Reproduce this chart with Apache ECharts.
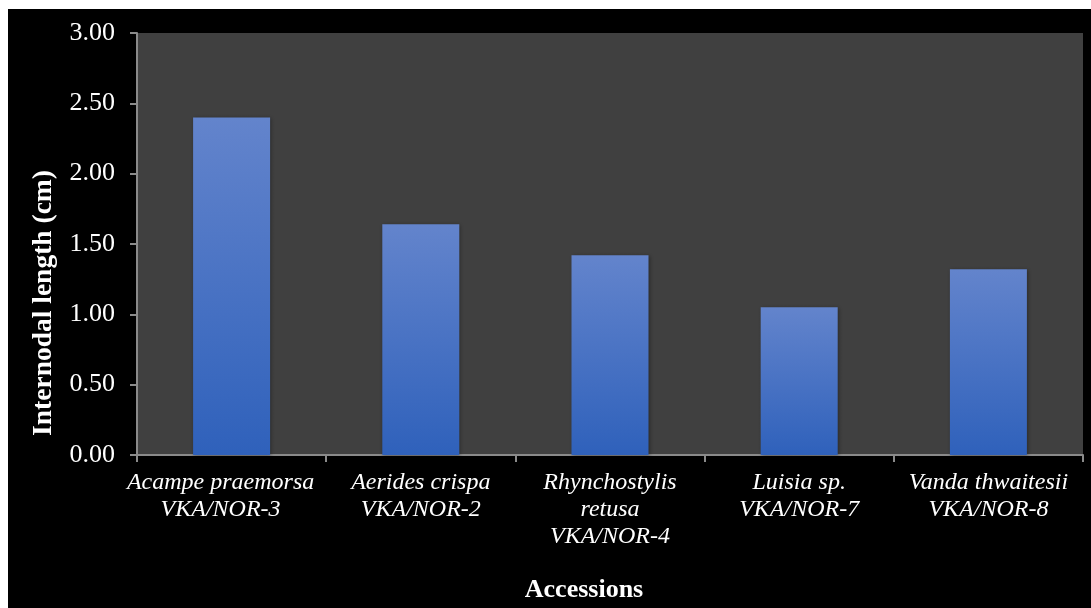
<!DOCTYPE html>
<html><head><meta charset="utf-8">
<script src="https://cdn.jsdelivr.net/npm/echarts@6/dist/echarts.min.js"></script>
<style>
html,body{margin:0;padding:0;background:#fff;width:1091px;height:608px;overflow:hidden}
#c{position:absolute;left:8px;top:9px;width:1083px;height:599px;background:#000}
</style></head><body>
<div id="c"></div>
<script>
const categories = [
  "Acampe praemorsa\nVKA/NOR-3",
  "Aerides crispa\nVKA/NOR-2",
  "Rhynchostylis\nretusa\nVKA/NOR-4",
  "Luisia sp.\nVKA/NOR-7",
  "Vanda thwaitesii\nVKA/NOR-8"
];
const values = [2.40, 1.64, 1.42, 1.05, 1.32];
const yTitle = "Internodal length (cm)";
const xTitle = "Accessions";

const chart = echarts.init(document.getElementById('c'));
const serif = '"Liberation Serif","Times New Roman",serif';
chart.setOption({
  backgroundColor: '#000',
  animation: false,
  grid: {left: 129, top: 24, right: 8, bottom: 147, show: true, backgroundColor: '#404040', borderWidth: 0},
  xAxis: {
    type: 'category',
    data: categories.map((c, i) => i === 0 ? {value: c, textStyle: {padding: [0, 22, 0, 0]}} : c),
    name: xTitle,
    nameLocation: 'middle',
    nameGap: 122,
    nameTextStyle: {color: '#fff', fontFamily: serif, fontWeight: 'bold', fontSize: 26, padding: [0, 52, 0, 0]},
    axisLine: {lineStyle: {color: '#8a8a8a', width: 2}},
    axisTick: {show: true, length: 7, lineStyle: {color: '#8a8a8a', width: 2}},
    axisLabel: {color: '#fff', fontFamily: serif, fontStyle: 'italic', fontSize: 24, lineHeight: 27, margin: 14, interval: 0}
  },
  yAxis: {
    type: 'value',
    min: 0, max: 3, interval: 0.5,
    name: yTitle,
    nameLocation: 'middle',
    nameGap: 79,
    nameRotate: 90,
    nameTextStyle: {color: '#fff', fontFamily: serif, fontWeight: 'bold', fontSize: 27.5, padding: [0, 118, 0, 0]},
    splitLine: {show: false},
    axisLine: {show: true, lineStyle: {color: '#8a8a8a', width: 2}},
    axisTick: {show: true, length: 7, lineStyle: {color: '#8a8a8a', width: 2}},
    axisLabel: {color: '#fff', fontFamily: serif, fontSize: 26, margin: 22, formatter: v => v.toFixed(2)}
  },
  series: [{
    type: 'bar',
    data: values,
    barWidth: 77,
    itemStyle: {
      color: new echarts.graphic.LinearGradient(0, 0, 0, 1, [
        {offset: 0, color: '#6384cc'},
        {offset: 1, color: '#2f61bb'}
      ]),
      shadowBlur: 4, shadowColor: 'rgba(0,0,0,0.35)', shadowOffsetX: 1, shadowOffsetY: 1
    }
  }]
});
</script>
</body></html>
